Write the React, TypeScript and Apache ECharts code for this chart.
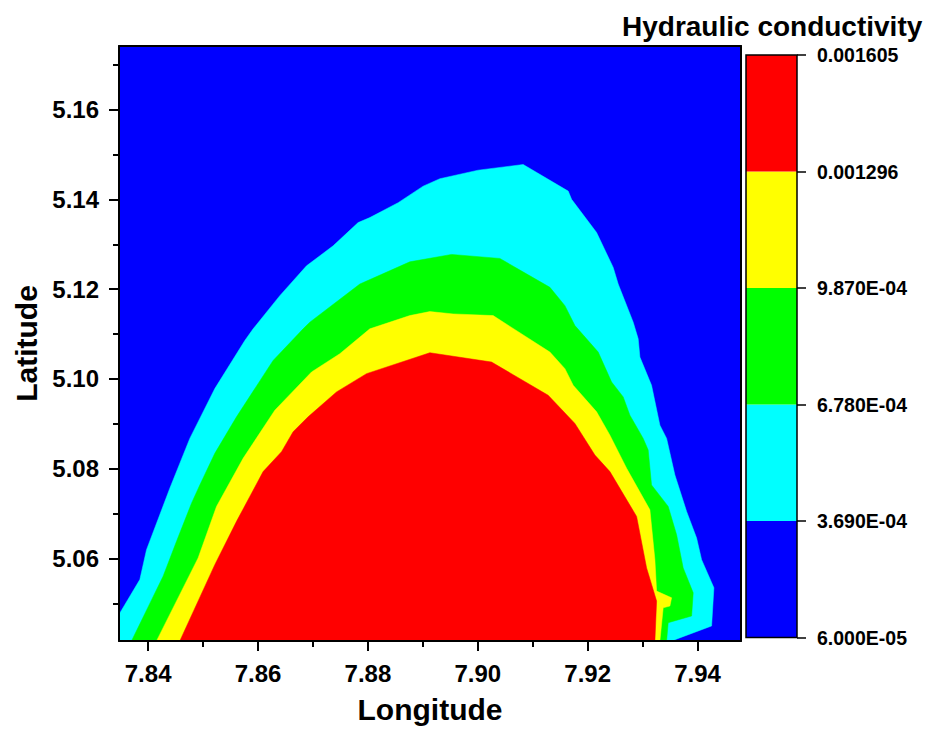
import React, { useEffect, useRef } from "react";
import * as echarts from "echarts";

// Axis ranges and ticks
const lonRange = [7.8347, 7.9479];
const latRange = [5.0416, 5.1742];
const xTicks = [7.84, 7.86, 7.88, 7.9, 7.92, 7.94];
const xMinorTicks = [7.85, 7.87, 7.89, 7.91, 7.93];
const yTicks = [5.06, 5.08, 5.1, 5.12, 5.14, 5.16];
const yMinorTicks = [5.05, 5.07, 5.09, 5.11, 5.13, 5.15, 5.17];

// Contour levels (colour bar)
const levels = [0.00006, 0.000369, 0.000678, 0.000987, 0.001296, 0.001605];
const levelLabels = ["6.000E-05", "3.690E-04", "6.780E-04", "9.870E-04", "0.001296", "0.001605"];
const bandColors = ["#0000ff", "#00ffff", "#00ff00", "#ffff00", "#ff0000"];

// Background band (whole domain, lowest level)
const blueRegion = [
  [7.83, 5.03],
  [7.83, 5.18],
  [7.95, 5.18],
  [7.95, 5.03],
];

// Boundary of the region >= 3.690E-04 (lon, lat)
const cyanBoundary = [
  [7.833, 5.04746],
  [7.83467, 5.04746],
  [7.83849, 5.05529],
  [7.83971, 5.06195],
  [7.84395, 5.07565],
  [7.84759, 5.08675],
  [7.85214, 5.09785],
  [7.8576, 5.10857],
  [7.85911, 5.11116],
  [7.86397, 5.11856],
  [7.86883, 5.12522],
  [7.87367, 5.12966],
  [7.87822, 5.13485],
  [7.88035, 5.13596],
  [7.88551, 5.13929],
  [7.89006, 5.14297],
  [7.8931, 5.14462],
  [7.90007, 5.14653],
  [7.90826, 5.14779],
  [7.91645, 5.14186],
  [7.91707, 5.14002],
  [7.92162, 5.13263],
  [7.92464, 5.12486],
  [7.92555, 5.12115],
  [7.92828, 5.11265],
  [7.92919, 5.10894],
  [7.9295, 5.10488],
  [7.93162, 5.09858],
  [7.93314, 5.0897],
  [7.93436, 5.08675],
  [7.93587, 5.0786],
  [7.938, 5.07048],
  [7.93982, 5.06455],
  [7.94073, 5.05973],
  [7.94297, 5.05345],
  [7.94255, 5.04495],
  [7.93527, 5.04162],
];

// Boundary of the region >= 6.780E-04
const greenBoundary = [
  [7.83698, 5.04162],
  [7.84273, 5.05605],
  [7.84517, 5.06382],
  [7.8479, 5.07232],
  [7.84941, 5.07638],
  [7.85214, 5.08342],
  [7.85609, 5.09156],
  [7.86275, 5.10413],
  [7.86821, 5.11116],
  [7.86943, 5.11265],
  [7.87853, 5.12115],
  [7.88763, 5.1261],
  [7.89522, 5.12775],
  [7.90402, 5.12686],
  [7.90735, 5.12448],
  [7.91312, 5.12042],
  [7.91585, 5.11634],
  [7.91767, 5.1119],
  [7.92191, 5.10599],
  [7.92435, 5.09933],
  [7.92646, 5.096],
  [7.92768, 5.09192],
  [7.9301, 5.08675],
  [7.93101, 5.08415],
  [7.93162, 5.07638],
  [7.93465, 5.07159],
  [7.93618, 5.06528],
  [7.93738, 5.05789],
  [7.9392, 5.05234],
  [7.93891, 5.04717],
  [7.93465, 5.04568],
  [7.93436, 5.04162],
];

// Boundary of the region >= 9.870E-04
const yellowBoundary = [
  [7.84153, 5.04162],
  [7.8491, 5.06011],
  [7.85245, 5.07159],
  [7.85729, 5.08231],
  [7.86306, 5.09303],
  [7.86974, 5.10155],
  [7.87489, 5.10562],
  [7.88035, 5.11116],
  [7.88763, 5.11412],
  [7.89127, 5.11501],
  [7.89551, 5.11449],
  [7.90279, 5.11412],
  [7.91312, 5.10599],
  [7.91585, 5.10229],
  [7.91736, 5.09858],
  [7.92162, 5.09267],
  [7.92404, 5.08748],
  [7.92708, 5.08009],
  [7.93132, 5.07083],
  [7.93223, 5.05973],
  [7.93254, 5.05272],
  [7.93527, 5.05123],
  [7.93496, 5.04939],
  [7.93374, 5.04901],
  [7.93314, 5.04162],
];

// Boundary of the region >= 0.001296
const redBoundary = [
  [7.84577, 5.04162],
  [7.85214, 5.05862],
  [7.85609, 5.06826],
  [7.86093, 5.07935],
  [7.86428, 5.08379],
  [7.86639, 5.08823],
  [7.86912, 5.09156],
  [7.87429, 5.09711],
  [7.87975, 5.10118],
  [7.89127, 5.10584],
  [7.9025, 5.10377],
  [7.91281, 5.09636],
  [7.91767, 5.09008],
  [7.92131, 5.08304],
  [7.92404, 5.07935],
  [7.9289, 5.06937],
  [7.93072, 5.05789],
  [7.93254, 5.0505],
  [7.93223, 5.04162],
];

const regions = [blueRegion, cyanBoundary, greenBoundary, yellowBoundary, redBoundary];

const FONT = "'Liberation Sans', Arial, sans-serif";

export default function App() {
  const ref = useRef<HTMLDivElement>(null);

  useEffect(() => {
    if (!ref.current) return;
    const chart = echarts.init(ref.current, undefined, { renderer: "svg" });

    const contourSeries = regions.map((pts, i) => ({
      type: "custom",
      coordinateSystem: "cartesian2d",
      xAxisIndex: 0,
      yAxisIndex: 0,
      clip: true,
      silent: true,
      z: 2 + i,
      data: pts,
      renderItem: (params: any, api: any) => {
        if (params.dataIndex !== 0) return null;
        const poly = pts.map((p) => api.coord(p));
        if (i > 0) {
          const below = latRange[0] - 0.01;
          poly.push(api.coord([pts[pts.length - 1][0], below]));
          poly.push(api.coord([pts[0][0], below]));
        }
        return {
          type: "polygon",
          shape: { points: poly },
          style: { fill: bandColors[i], stroke: bandColors[i], lineWidth: 0.5 },
        };
      },
    }));

    const bands = bandColors.map((c, i) => [levels[i], levels[i + 1], i]);

    const colorbarSeries = {
      type: "custom",
      coordinateSystem: "cartesian2d",
      xAxisIndex: 3,
      yAxisIndex: 3,
      silent: true,
      z: 5,
      data: bands,
      renderItem: (params: any, api: any) => {
        const lo = api.value(0);
        const hi = api.value(1);
        const idx = api.value(2);
        const p1 = api.coord([0, hi]);
        const p2 = api.coord([1, lo]);
        const children: any[] = [
          {
            type: "rect",
            shape: { x: p1[0], y: p1[1], width: p2[0] - p1[0], height: p2[1] - p1[1] },
            style: { fill: bandColors[idx] },
          },
        ];
        if (params.dataIndex === bands.length - 1) {
          const t = api.coord([0, levels[levels.length - 1]]);
          const b = api.coord([1, levels[0]]);
          children.push({
            type: "rect",
            z2: 10,
            shape: { x: t[0], y: t[1], width: b[0] - t[0], height: b[1] - t[1] },
            style: { fill: "none", stroke: "#000", lineWidth: 1.5 },
          });
        }
        return { type: "group", children };
      },
    };

    const labelStyle = { color: "#000", fontFamily: FONT, fontWeight: "bold" as const };

    const option: any = {
      animation: false,
      backgroundColor: "#fff",
      title: {
        text: "Hydraulic conductivity",
        left: 617,
        top: 7,
        textStyle: { ...labelStyle, fontSize: 28 },
      },
      grid: [
        { left: 119, top: 46, width: 622, height: 597.3 },
        { left: 746, top: 55, width: 51, height: 582.5 },
      ],
      xAxis: [
        {
          type: "value",
          gridIndex: 0,
          min: lonRange[0],
          max: lonRange[1],
          position: "bottom",
          z: 10,
          name: "Longitude",
          nameLocation: "middle",
          nameGap: 53,
          nameTextStyle: { ...labelStyle, fontSize: 30 },
          axisLine: { show: true, onZero: false, lineStyle: { color: "#000", width: 2 } },
          axisTick: { show: true, inside: false, length: 10, customValues: xTicks, lineStyle: { color: "#000", width: 2 } },
          axisLabel: { show: true, margin: 20, customValues: xTicks, formatter: (v: number) => v.toFixed(2), ...labelStyle, fontSize: 24 },
          splitLine: { show: false },
        },
        {
          type: "value",
          gridIndex: 0,
          min: lonRange[0],
          max: lonRange[1],
          position: "bottom",
          z: 10,
          axisLine: { show: false, onZero: false },
          axisTick: { show: true, inside: false, length: 6, customValues: xMinorTicks, lineStyle: { color: "#000", width: 2 } },
          axisLabel: { show: false },
          splitLine: { show: false },
        },
        {
          type: "value",
          gridIndex: 0,
          min: lonRange[0],
          max: lonRange[1],
          position: "top",
          z: 10,
          axisLine: { show: true, onZero: false, lineStyle: { color: "#000", width: 2 } },
          axisTick: { show: false },
          axisLabel: { show: false },
          splitLine: { show: false },
        },
        {
          type: "value",
          gridIndex: 1,
          min: 0,
          max: 1,
          show: false,
        },
      ],
      yAxis: [
        {
          type: "value",
          gridIndex: 0,
          min: latRange[0],
          max: latRange[1],
          position: "left",
          z: 10,
          name: "Latitude",
          nameLocation: "middle",
          nameRotate: 90,
          nameGap: 76,
          nameTextStyle: { ...labelStyle, fontSize: 30 },
          axisLine: { show: true, onZero: false, lineStyle: { color: "#000", width: 2 } },
          axisTick: { show: true, inside: false, length: 10, customValues: yTicks, lineStyle: { color: "#000", width: 2 } },
          axisLabel: { show: true, margin: 20, customValues: yTicks, formatter: (v: number) => v.toFixed(2), ...labelStyle, fontSize: 24 },
          splitLine: { show: false },
        },
        {
          type: "value",
          gridIndex: 0,
          min: latRange[0],
          max: latRange[1],
          position: "left",
          z: 10,
          axisLine: { show: false, onZero: false },
          axisTick: { show: true, inside: false, length: 6, customValues: yMinorTicks, lineStyle: { color: "#000", width: 2 } },
          axisLabel: { show: false },
          splitLine: { show: false },
        },
        {
          type: "value",
          gridIndex: 0,
          min: latRange[0],
          max: latRange[1],
          position: "right",
          z: 10,
          axisLine: { show: true, onZero: false, lineStyle: { color: "#000", width: 2 } },
          axisTick: { show: false },
          axisLabel: { show: false },
          splitLine: { show: false },
        },
        {
          type: "value",
          gridIndex: 1,
          min: levels[0],
          max: levels[levels.length - 1],
          position: "right",
          z: 10,
          axisLine: { show: false, onZero: false },
          axisTick: { show: true, inside: false, length: 9, customValues: levels, lineStyle: { color: "#000", width: 1.5 } },
          axisLabel: {
            show: true,
            margin: 20,
            customValues: levels,
            formatter: (v: number) => {
              let best = 0;
              levels.forEach((l, k) => {
                if (Math.abs(l - v) < Math.abs(levels[best] - v)) best = k;
              });
              return levelLabels[best];
            },
            ...labelStyle,
            fontSize: 19.5,
          },
          splitLine: { show: false },
        },
      ],
      series: [...contourSeries, colorbarSeries],
    };

    chart.setOption(option);
    return () => chart.dispose();
  }, []);

  return (
    <div
      ref={ref}
      style={{ position: "fixed", left: 0, top: 0, width: 936, height: 729, background: "#fff" }}
    />
  );
}
